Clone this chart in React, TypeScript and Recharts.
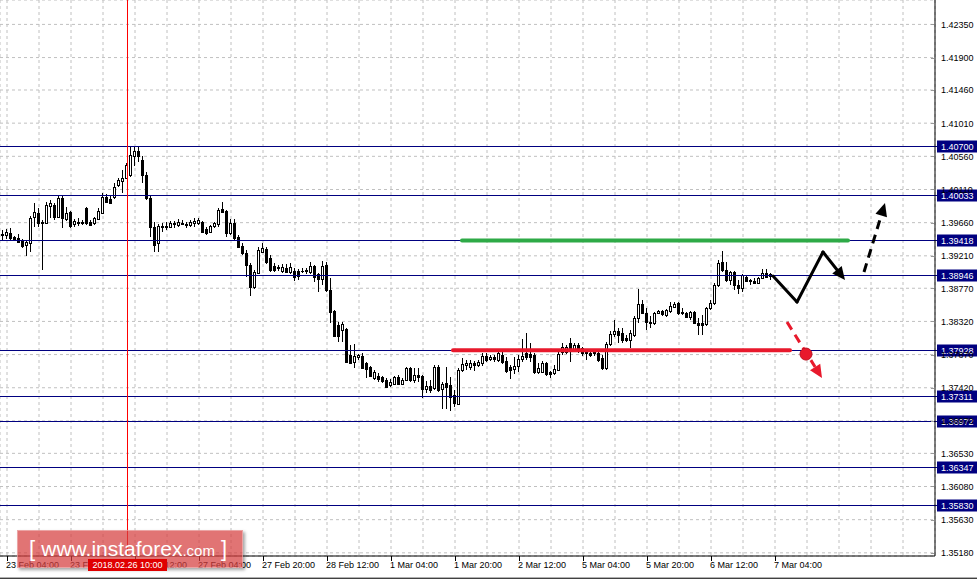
import React from 'react';
import { ComposedChart, Bar, XAxis, YAxis, CartesianGrid, ReferenceLine, ReferenceDot } from 'recharts';

// hourly candles, one row = [open, high, low, close]
const feb23 = [
  [1.39492, 1.39560, 1.39424, 1.39506], [1.39492, 1.39574, 1.39438, 1.39533], [1.39519, 1.39587, 1.39424, 1.39452],
  [1.39465, 1.39479, 1.39411, 1.39424], [1.39452, 1.39506, 1.39384, 1.39397], [1.39411, 1.39438, 1.39316, 1.39343],
  [1.39357, 1.39411, 1.39207, 1.39397], [1.39384, 1.39750, 1.39262, 1.39723], [1.39737, 1.39926, 1.39601, 1.39804],
  [1.39791, 1.39859, 1.39601, 1.39655], [1.39655, 1.39696, 1.39017, 1.39669], [1.39655, 1.39940, 1.39642, 1.39899],
  [1.39886, 1.39967, 1.39723, 1.39926], [1.39899, 1.39926, 1.39696, 1.39737], [1.39737, 1.40021, 1.39723, 1.39994],
  [1.39994, 1.40021, 1.39587, 1.39723], [1.39709, 1.39872, 1.39682, 1.39791], [1.39804, 1.39818, 1.39587, 1.39614],
  [1.39642, 1.39709, 1.39601, 1.39682], [1.39669, 1.39723, 1.39614, 1.39655], [1.39655, 1.39696, 1.39628, 1.39669],
];
const feb26 = [
  [1.39859, 1.39872, 1.39628, 1.39655], [1.39669, 1.39696, 1.39614, 1.39628], [1.39655, 1.39737, 1.39628, 1.39723],
  [1.39709, 1.39859, 1.39696, 1.39818], [1.39791, 1.40062, 1.39777, 1.40008], [1.40008, 1.40049, 1.39926, 1.39940],
  [1.39981, 1.40021, 1.39913, 1.39926], [1.40008, 1.40198, 1.39981, 1.40144], [1.40171, 1.40266, 1.40144, 1.40239],
  [1.40225, 1.40374, 1.40062, 1.40266], [1.40266, 1.40469, 1.40252, 1.40442], [1.40306, 1.40686, 1.40279, 1.40578],
  [1.40564, 1.40700, 1.40429, 1.40632], [1.40632, 1.40686, 1.40483, 1.40564], [1.40510, 1.40564, 1.40198, 1.40306],
  [1.40306, 1.40347, 1.39967, 1.39994], [1.39994, 1.40021, 1.39465, 1.39601], [1.39601, 1.39669, 1.39262, 1.39357],
  [1.39384, 1.39642, 1.39262, 1.39614], [1.39614, 1.39655, 1.39533, 1.39601], [1.39601, 1.39669, 1.39560, 1.39614],
  [1.39601, 1.39682, 1.39587, 1.39655], [1.39642, 1.39682, 1.39587, 1.39655], [1.39628, 1.39709, 1.39601, 1.39669],
];
const feb27 = [
  [1.39655, 1.39696, 1.39628, 1.39642], [1.39642, 1.39669, 1.39587, 1.39628], [1.39628, 1.39696, 1.39601, 1.39669],
  [1.39655, 1.39723, 1.39601, 1.39682], [1.39655, 1.39723, 1.39628, 1.39696], [1.39669, 1.39682, 1.39519, 1.39533],
  [1.39574, 1.39601, 1.39492, 1.39519], [1.39533, 1.39628, 1.39519, 1.39614], [1.39614, 1.39669, 1.39587, 1.39655],
  [1.39642, 1.39859, 1.39601, 1.39832], [1.39845, 1.39940, 1.39791, 1.39804], [1.39818, 1.39832, 1.39465, 1.39519],
  [1.39519, 1.39709, 1.39492, 1.39655], [1.39655, 1.39709, 1.39424, 1.39452], [1.39465, 1.39492, 1.39316, 1.39329],
  [1.39343, 1.39384, 1.39221, 1.39248], [1.39248, 1.39289, 1.38922, 1.39085], [1.39085, 1.39112, 1.38664, 1.38787],
  [1.38787, 1.39017, 1.38759, 1.38990], [1.38977, 1.39329, 1.38963, 1.39289], [1.39262, 1.39384, 1.39248, 1.39316],
  [1.39302, 1.39329, 1.39099, 1.39126], [1.39180, 1.39221, 1.38990, 1.39017], [1.39072, 1.39112, 1.38990, 1.39017],
];
const feb28 = [
  [1.39058, 1.39085, 1.39004, 1.39044], [1.39004, 1.39099, 1.38977, 1.39058], [1.39044, 1.39099, 1.38977, 1.38990],
  [1.38990, 1.39112, 1.38963, 1.39058], [1.39004, 1.39044, 1.38868, 1.38922], [1.39004, 1.39031, 1.38882, 1.38936],
  [1.39004, 1.39044, 1.38977, 1.39004], [1.39004, 1.39044, 1.38963, 1.39017], [1.38990, 1.39126, 1.38963, 1.39072],
  [1.39072, 1.39085, 1.38854, 1.38922], [1.38963, 1.38977, 1.38719, 1.38895], [1.38895, 1.39139, 1.38814, 1.39072],
  [1.39085, 1.39126, 1.38719, 1.38746], [1.38746, 1.38909, 1.38298, 1.38447], [1.38461, 1.38475, 1.38122, 1.38122],
  [1.38271, 1.38312, 1.38040, 1.38122], [1.38203, 1.38312, 1.38040, 1.38285], [1.38217, 1.38230, 1.37755, 1.37769],
  [1.37864, 1.38000, 1.37755, 1.37755], [1.37769, 1.38013, 1.37687, 1.37850], [1.37837, 1.37877, 1.37796, 1.37864],
  [1.37850, 1.37891, 1.37674, 1.37687], [1.37755, 1.37769, 1.37552, 1.37674], [1.37701, 1.37715, 1.37565, 1.37579],
];
const mar1 = [
  [1.37552, 1.37660, 1.37525, 1.37633], [1.37579, 1.37620, 1.37497, 1.37538], [1.37565, 1.37579, 1.37484, 1.37511],
  [1.37525, 1.37552, 1.37416, 1.37430], [1.37457, 1.37538, 1.37430, 1.37497], [1.37470, 1.37579, 1.37457, 1.37565],
  [1.37565, 1.37592, 1.37457, 1.37470], [1.37470, 1.37552, 1.37457, 1.37525], [1.37525, 1.37701, 1.37511, 1.37687],
  [1.37687, 1.37701, 1.37497, 1.37525], [1.37525, 1.37687, 1.37484, 1.37592], [1.37592, 1.37687, 1.37497, 1.37565],
  [1.37579, 1.37592, 1.37280, 1.37402], [1.37402, 1.37511, 1.37348, 1.37443], [1.37443, 1.37525, 1.37348, 1.37389],
  [1.37416, 1.37728, 1.37389, 1.37701], [1.37701, 1.37728, 1.37362, 1.37389], [1.37402, 1.37497, 1.37131, 1.37470],
  [1.37484, 1.37701, 1.37131, 1.37430], [1.37457, 1.37565, 1.37104, 1.37294], [1.37321, 1.37389, 1.37158, 1.37212],
  [1.37199, 1.37687, 1.37185, 1.37660], [1.37660, 1.37823, 1.37633, 1.37742], [1.37728, 1.37796, 1.37660, 1.37755],
];
const mar2 = [
  [1.37701, 1.37796, 1.37660, 1.37755], [1.37755, 1.37782, 1.37647, 1.37728], [1.37728, 1.37796, 1.37701, 1.37769],
  [1.37755, 1.37891, 1.37715, 1.37850], [1.37850, 1.37891, 1.37769, 1.37796], [1.37810, 1.37864, 1.37782, 1.37837],
  [1.37837, 1.37864, 1.37769, 1.37810], [1.37796, 1.37905, 1.37769, 1.37891], [1.37864, 1.37905, 1.37742, 1.37769],
  [1.37782, 1.37837, 1.37620, 1.37647], [1.37701, 1.37728, 1.37538, 1.37660], [1.37674, 1.37837, 1.37606, 1.37715],
  [1.37715, 1.37864, 1.37633, 1.37810], [1.37810, 1.38081, 1.37769, 1.37850], [1.37891, 1.38162, 1.37796, 1.37837],
  [1.37877, 1.38027, 1.37769, 1.37837], [1.37864, 1.37891, 1.37606, 1.37633], [1.37633, 1.37755, 1.37606, 1.37687],
  [1.37633, 1.37782, 1.37620, 1.37755], [1.37755, 1.37769, 1.37579, 1.37606], [1.37633, 1.37647, 1.37552, 1.37606],
  [1.37620, 1.37728, 1.37592, 1.37674], [1.37660, 1.37905, 1.37647, 1.37877], [1.37905, 1.38027, 1.37864, 1.37972],
];
const mar5 = [
  [1.37905, 1.38000, 1.37877, 1.37972], [1.38027, 1.38095, 1.37769, 1.37932], [1.37932, 1.38027, 1.37905, 1.38000],
  [1.38000, 1.38027, 1.37891, 1.37959], [1.37959, 1.37972, 1.37850, 1.37891], [1.37905, 1.37932, 1.37796, 1.37891],
  [1.37891, 1.37918, 1.37837, 1.37864], [1.37905, 1.37932, 1.37850, 1.37891], [1.37891, 1.37905, 1.37769, 1.37796],
  [1.37823, 1.37864, 1.37660, 1.37687], [1.37687, 1.38040, 1.37660, 1.38013], [1.38013, 1.38190, 1.37986, 1.38149],
  [1.38149, 1.38339, 1.38108, 1.38190], [1.38190, 1.38230, 1.38027, 1.38135], [1.38162, 1.38230, 1.38027, 1.38067],
  [1.38095, 1.38135, 1.38040, 1.38067], [1.38067, 1.38203, 1.37959, 1.38162], [1.38135, 1.38393, 1.38108, 1.38366],
  [1.38366, 1.38759, 1.38298, 1.38556], [1.38556, 1.38610, 1.38420, 1.38434], [1.38434, 1.38502, 1.38203, 1.38312],
  [1.38312, 1.38393, 1.38230, 1.38298], [1.38298, 1.38447, 1.38271, 1.38434], [1.38434, 1.38475, 1.38420, 1.38461],
];
const mar6 = [
  [1.38461, 1.38475, 1.38393, 1.38420], [1.38407, 1.38488, 1.38380, 1.38475], [1.38461, 1.38583, 1.38434, 1.38529],
  [1.38515, 1.38583, 1.38502, 1.38556], [1.38569, 1.38583, 1.38407, 1.38434], [1.38447, 1.38502, 1.38407, 1.38434],
  [1.38434, 1.38447, 1.38366, 1.38380], [1.38380, 1.38461, 1.38339, 1.38447], [1.38447, 1.38461, 1.38285, 1.38298],
  [1.38298, 1.38366, 1.38135, 1.38271], [1.38298, 1.38407, 1.38135, 1.38271], [1.38285, 1.38515, 1.38257, 1.38502],
  [1.38502, 1.38610, 1.38475, 1.38569], [1.38569, 1.38841, 1.38542, 1.38814], [1.38814, 1.39153, 1.38787, 1.39112],
  [1.39126, 1.39275, 1.38990, 1.39017], [1.39017, 1.39126, 1.38854, 1.38882], [1.38882, 1.39004, 1.38814, 1.38990],
  [1.38990, 1.39004, 1.38746, 1.38814], [1.38814, 1.38882, 1.38692, 1.38773], [1.38773, 1.38963, 1.38719, 1.38949],
  [1.38922, 1.38949, 1.38854, 1.38868], [1.38868, 1.38895, 1.38814, 1.38882], [1.38868, 1.38909, 1.38827, 1.38841],
];
const mar7 = [
  [1.38841, 1.38922, 1.38841, 1.38909], [1.38909, 1.39031, 1.38895, 1.38977], [1.38977, 1.39031, 1.38909, 1.38922],
  [1.38963, 1.38977, 1.38882, 1.38936],
];

const timeLabels = [
  '23 Feb 04:00', '23 Feb 20:00', '26 Feb 12:00', '27 Feb 04:00', '27 Feb 20:00', '28 Feb 12:00', '1 Mar 04:00',
  '1 Mar 20:00', '2 Mar 12:00', '5 Mar 04:00', '5 Mar 20:00', '6 Mar 12:00', '7 Mar 04:00',
];
const labelSlots = [1, 17, 33, 49, 65, 81, 97, 113, 129, 145, 161, 177, 193];
const priceTicks = [
  1.4235, 1.419, 1.4146, 1.4101, 1.4056, 1.4011, 1.3966, 1.3921, 1.3877, 1.3832, 1.3787, 1.3742, 1.3697,
  1.3653, 1.3608, 1.3563, 1.3518,
];
const levels = [1.407, 1.40033, 1.39418, 1.38946, 1.37928, 1.37311, 1.36972, 1.36347, 1.3583];

// drawn scenario, in [slot, price]
const buyLine = [[114.75, 1.39418], [211.25, 1.39418]];
const sellLine = [[112.5, 1.37928], [196.75, 1.37928]];
const mainPath = [[192.5, 1.38936], [198.5, 1.38583], [205, 1.39262], [210.5, 1.38882]];
const upArrow = [[215.25, 1.3899], [220.5, 1.39926]];
const downArrow = [[196, 1.38312], [204.75, 1.37552]];
const stopDot = [200.75, 1.37877];
const cursorSlot = 31;

const candles = [feb23, feb26, feb27, feb28, mar1, mar2, mar5, mar6, mar7]
  .flat()
  .map((c, i) => ({ slot: i, open: c[0], high: c[1], low: c[2], close: c[3] }));

const gridSlots: number[] = [];
for (let s = 1; s <= 233; s += 8) gridSlots.push(s);

const FONT = "'Liberation Sans', Arial, sans-serif";
const FS = 9;

const Candle = (props: any) => {
  const { x, y, width, height, payload } = props;
  const { open, high, low, close } = payload;
  const top0 = Math.min(y, y + height);
  const h = Math.abs(height);
  const cx = Math.floor(x + width / 2);
  const span = high - low || 1e-9;
  const py = (p: number) => top0 + ((high - p) / span) * h;
  const t = Math.round(py(Math.max(open, close)));
  const b = Math.round(py(Math.min(open, close)));
  const bull = close >= open;
  return (
    <g shapeRendering="crispEdges">
      <line x1={cx + 0.5} x2={cx + 0.5} y1={Math.round(top0)} y2={Math.round(top0 + h)} stroke="#000" />
      {b - t < 1 ? (
        <line x1={cx - 1} x2={cx + 2} y1={t + 0.5} y2={t + 0.5} stroke="#000" />
      ) : (
        <rect x={cx - 0.5} y={t + 0.5} width={2} height={b - t} fill={bull ? '#fff' : '#000'} stroke="#000" />
      )}
    </g>
  );
};

const TimeTick = (props: any) => {
  const { x, payload } = props;
  const k = labelSlots.indexOf(payload.value);
  if (k < 0) return null;
  return (
    <g>
      <line x1={Math.floor(x) + 0.5} x2={Math.floor(x) + 0.5} y1={556} y2={561} stroke="#000" shapeRendering="crispEdges" />
      <text x={x - 1} y={568} fontSize={FS} fontFamily={FONT} fill="#000">{timeLabels[k]}</text>
    </g>
  );
};

const PriceTick = (props: any) => {
  const { y, payload } = props;
  return (
    <g>
      <line x1={931} x2={934} y1={Math.round(y) + 0.5} y2={Math.round(y) + 0.5} stroke="#999" shapeRendering="crispEdges" />
      <text x={941} y={y + 3.5} fontSize={FS} fontFamily={FONT} fill="#000">{payload.value.toFixed(5)}</text>
    </g>
  );
};

const levelShape = (price: number) => (p: any) => {
  const yy = Math.round(p.y1) + 0.5;
  const xl = Math.min(p.x1, p.x2);
  const xr = Math.max(p.x1, p.x2);
  return (
    <g>
      <line x1={xl} x2={xr + 2} y1={yy} y2={yy} stroke="#000080" shapeRendering="crispEdges" />
      <rect x={xr + 2} y={yy - 6} width={40} height={12} fill="#000080" />
      <text x={xr + 6} y={yy + 3.5} fontSize={FS} fontFamily={FONT} fill="#fff">{price.toFixed(5)}</text>
    </g>
  );
};

const cursorShape = (p: any) => {
  const xx = Math.floor(p.x1) + 0.5;
  return (
    <line x1={xx} x2={xx} y1={Math.min(p.y1, p.y2)} y2={Math.max(p.y1, p.y2)} stroke="#ff0000" shapeRendering="crispEdges" />
  );
};

const arrowShape = (color: string, w: number, dash?: string, head = false) => (p: any) => {
  const { x1, y1, x2, y2 } = p;
  const a = Math.atan2(y2 - y1, x2 - x1);
  const L = 13;
  const W = 6;
  const bx = x2 - L * Math.cos(a);
  const by = y2 - L * Math.sin(a);
  const pts = [
    [x2, y2],
    [bx - W * Math.sin(a), by + W * Math.cos(a)],
    [bx + W * Math.sin(a), by - W * Math.cos(a)],
  ]
    .map((q) => q.join(','))
    .join(' ');
  return (
    <g>
      <line x1={x1} y1={y1} x2={head ? bx : x2} y2={head ? by : y2} stroke={color} strokeWidth={w} strokeDasharray={dash} strokeLinecap={dash ? 'butt' : 'round'} />
      {head && <polygon points={pts} fill={color} />}
    </g>
  );
};

const seg = (pts: number[][], i: number) => [
  { x: pts[i][0], y: pts[i][1] },
  { x: pts[i + 1][0], y: pts[i + 1][1] },
];

export default function App() {
  return (
    <div style={{ position: 'absolute', left: 0, top: 0, width: 977, height: 581, background: '#fff', overflow: 'hidden' }}>
      <ComposedChart width={977} height={581} data={candles} margin={{ top: 0, right: 0, bottom: 0, left: 0 }}>
        <CartesianGrid stroke="#c0c0c0" strokeDasharray="3 3" />
        <XAxis
          type="number"
          dataKey="slot"
          domain={[-0.75, 233]}
          allowDataOverflow
          ticks={gridSlots}
          interval={0}
          height={25}
          tickLine={false}
          axisLine={{ stroke: '#000' }}
          tick={<TimeTick />}
        />
        <YAxis
          orientation="right"
          type="number"
          domain={[1.35137, 1.42681]}
          allowDataOverflow
          ticks={priceTicks}
          interval={0}
          width={42}
          tickLine={false}
          axisLine={{ stroke: '#000' }}
          tick={<PriceTick />}
        />
        <Bar dataKey={(d: any) => [d.low, d.high]} barSize={3} shape={<Candle />} isAnimationActive={false} />
        {levels.map((lv) => (
          <ReferenceLine key={lv} y={lv} shape={levelShape(lv)} />
        ))}
        <ReferenceLine x={cursorSlot} shape={cursorShape} />
        <ReferenceLine segment={seg(buyLine, 0)} shape={arrowShape('#2eaa47', 4)} />
        <ReferenceLine segment={seg(sellLine, 0)} shape={arrowShape('#e8192c', 4)} />
        <ReferenceLine segment={seg(mainPath, 0)} shape={arrowShape('#000', 3)} />
        <ReferenceLine segment={seg(mainPath, 1)} shape={arrowShape('#000', 3)} />
        <ReferenceLine segment={seg(mainPath, 2)} shape={arrowShape('#000', 3, undefined, true)} />
        <ReferenceLine segment={seg(upArrow, 0)} shape={arrowShape('#000', 3, '9 6', true)} />
        <ReferenceLine segment={seg(downArrow, 0)} shape={arrowShape('#e8192c', 3, '9 6', true)} />
        <ReferenceDot x={stopDot[0]} y={stopDot[1]} r={6} fill="#e8192c" stroke="#c01020" />
      </ComposedChart>
      <div style={{ position: 'absolute', left: 0, top: 577, width: 977, height: 1, background: '#b0b0b0' }} />
      <div style={{ position: 'absolute', left: 0, top: 578, width: 977, height: 1, background: '#404040' }} />
      <div
        style={{
          position: 'absolute',
          left: 17,
          top: 530,
          width: 226,
          height: 38,
          background: 'rgba(214, 62, 62, 0.72)',
          border: '1px solid rgba(255,255,255,0.35)',
          boxShadow: '2px 2px 3px rgba(0,0,0,0.35)',
          boxSizing: 'border-box',
          color: '#fff',
          fontFamily: "'Liberation Sans', Arial, sans-serif",
          whiteSpace: 'nowrap',
          lineHeight: '36px',
          paddingLeft: 11,
        }}
      >
        <span style={{ fontSize: 22 }}>[ </span>
        <span style={{ fontSize: 21 }}> www.instaforex</span>
        <span style={{ fontSize: 15 }}>.com</span>
        <span style={{ fontSize: 22 }}> ]</span>
      </div>
      {/* cursor time tag on the time axis, drawn above the watermark */}
      <div
        style={{
          position: 'absolute',
          left: 88,
          top: 559,
          width: 79,
          height: 12,
          background: '#e00000',
          color: '#fff',
          fontFamily: FONT,
          fontSize: FS,
          lineHeight: '12px',
          textAlign: 'center',
        }}
      >
        2018.02.26 10:00
      </div>
    </div>
  );
}
